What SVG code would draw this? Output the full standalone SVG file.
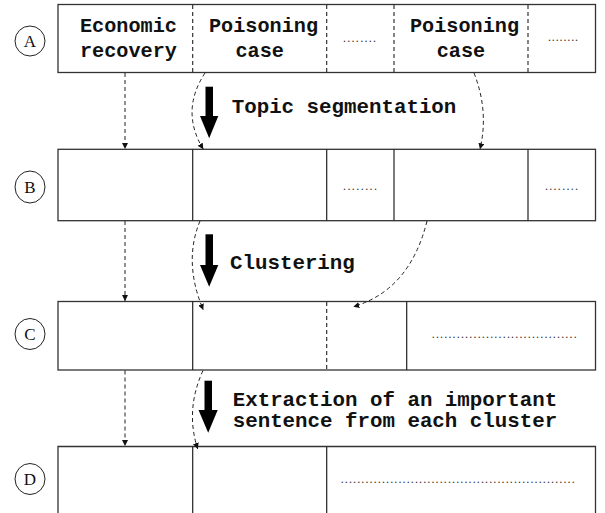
<svg xmlns="http://www.w3.org/2000/svg" width="605" height="513" viewBox="0 0 605 513">
<style>
.box{fill:#fff;stroke:#333;stroke-width:1.3}
.sol{stroke:#222;stroke-width:1.2;fill:none}
.dsh{stroke:#222;stroke-width:1.1;stroke-dasharray:4 3;fill:none}
.con{stroke:#222;stroke-width:1;stroke-dasharray:4 3;fill:none}
.cell{font-family:"Liberation Mono","Courier New",monospace;font-weight:bold;font-size:20.2px;fill:#111}
.lbl{font-family:"Liberation Mono","Courier New",monospace;font-weight:bold;font-size:20.8px;fill:#111}
.dots{font-family:"Liberation Serif","Times New Roman",serif;font-size:12px;fill:#333}
.circ{fill:#fff;stroke:#222;stroke-width:1}
.ltr{font-family:"Liberation Serif","Times New Roman",serif;font-size:17px;fill:#111;text-anchor:middle}
.big{fill:#000}
</style>
<defs>
<marker id="ah" viewBox="0 0 10 10" refX="10" refY="5" markerWidth="6" markerHeight="6" markerUnits="userSpaceOnUse" orient="auto">
<path d="M0,0 L10,5 L0,10 Z" fill="#111"/>
</marker>
</defs>

<g id="labelA"><ellipse class="circ" cx="30" cy="41" rx="15" ry="15"/><text class="ltr" x="30" y="47">A</text></g>
<g id="labelB"><ellipse class="circ" cx="30" cy="187" rx="15" ry="16"/><text class="ltr" x="30" y="193">B</text></g>
<g id="labelC"><ellipse class="circ" cx="30" cy="334" rx="15" ry="15.5"/><text class="ltr" x="30" y="340">C</text></g>
<g id="labelD"><ellipse class="circ" cx="30" cy="479" rx="15" ry="15.5"/><text class="ltr" x="30" y="485">D</text></g>

<g id="rowA">
<rect class="box" x="58" y="4.5" width="537.5" height="68"/>
<line class="dsh" x1="192.7" y1="5" x2="192.7" y2="72"/>
<line class="dsh" x1="326.7" y1="5" x2="326.7" y2="72"/>
<line class="dsh" x1="394" y1="5" x2="394" y2="72"/>
<line class="dsh" x1="528" y1="5" x2="528" y2="72"/>
<text class="cell" x="80" y="32">Economic</text>
<text class="cell" x="80" y="57">recovery</text>
<text class="cell" x="209" y="32">Poisoning</text>
<text class="cell" x="235.5" y="57">case</text>
<text class="dots" x="343" y="41.5" textLength="33" lengthAdjust="spacing">........</text>
<text class="cell" x="410" y="32">Poisoning</text>
<text class="cell" x="436.7" y="57">case</text>
<text class="dots" x="548" y="41" textLength="30" lengthAdjust="spacing">........</text>
</g>

<g id="rowB">
<rect class="box" x="58" y="149.3" width="537.5" height="71.4"/>
<line class="sol" x1="192.7" y1="149.3" x2="192.7" y2="220.7"/>
<line class="sol" x1="326.7" y1="149.3" x2="326.7" y2="220.7"/>
<line class="sol" x1="394" y1="149.3" x2="394" y2="220.7"/>
<line class="sol" x1="528" y1="149.3" x2="528" y2="220.7"/>
<text class="dots" x="343" y="189.5" textLength="34" lengthAdjust="spacing">........</text>
<text class="dots" x="545" y="189.5" textLength="33" lengthAdjust="spacing">........</text>
</g>

<g id="rowC">
<rect class="box" x="58" y="301.5" width="537.5" height="68.5"/>
<line class="sol" x1="192.7" y1="301.5" x2="192.7" y2="370"/>
<line class="dsh" x1="326.7" y1="302" x2="326.7" y2="370"/>
<line class="sol" x1="406.7" y1="301.5" x2="406.7" y2="370"/>
<text class="dots" x="431.7" y="338" textLength="145" lengthAdjust="spacing">...................................</text>
</g>

<g id="rowD">
<path class="box" d="M58,514 V446.5 H595.5 V514"/>
<line class="sol" x1="192.7" y1="446.5" x2="192.7" y2="513"/>
<line class="sol" x1="326.7" y1="446.5" x2="326.7" y2="513"/>
<text class="dots" x="340.7" y="482.5" textLength="234" lengthAdjust="spacing">.........................................................</text>
</g>

<g id="steps">
<g id="step1">
<rect class="big" x="205.5" y="86.7" width="7.5" height="30"/>
<polygon class="big" points="200,116 218.3,116 209.2,138.3"/>
<text class="lbl" x="231.7" y="113.3">Topic segmentation</text>
</g>
<g id="step2">
<rect class="big" x="205.5" y="234.3" width="7.5" height="31"/>
<polygon class="big" points="200,265 218.3,265 209.2,286.7"/>
<text class="lbl" x="230" y="269">Clustering</text>
</g>
<g id="step3">
<rect class="big" x="204.5" y="380.7" width="7.5" height="30"/>
<polygon class="big" points="198.5,410 217.7,410 208.2,432.7"/>
<text class="lbl" x="232.7" y="405.7">Extraction of an important</text>
<text class="lbl" x="232.7" y="427.3">sentence from each cluster</text>
</g>
</g>

<g id="connectors">
<line class="con" x1="125" y1="73" x2="125" y2="149" marker-end="url(#ah)"/>
<line class="con" x1="125" y1="221" x2="125" y2="301" marker-end="url(#ah)"/>
<line class="con" x1="125" y1="370.5" x2="125" y2="446" marker-end="url(#ah)"/>
<path class="con" d="M205,73 Q180,111 203.3,149.3" marker-end="url(#ah)"/>
<path class="con" d="M474,73 Q489,111 480,149.3" marker-end="url(#ah)"/>
<path class="con" d="M200,221 Q183,262 203.3,310" marker-end="url(#ah)"/>
<path class="con" d="M427,221 Q410,290 353.3,306.7" marker-end="url(#ah)"/>
<path class="con" d="M203,370.5 Q185,410 197.7,449" marker-end="url(#ah)"/>
</g>
</svg>
